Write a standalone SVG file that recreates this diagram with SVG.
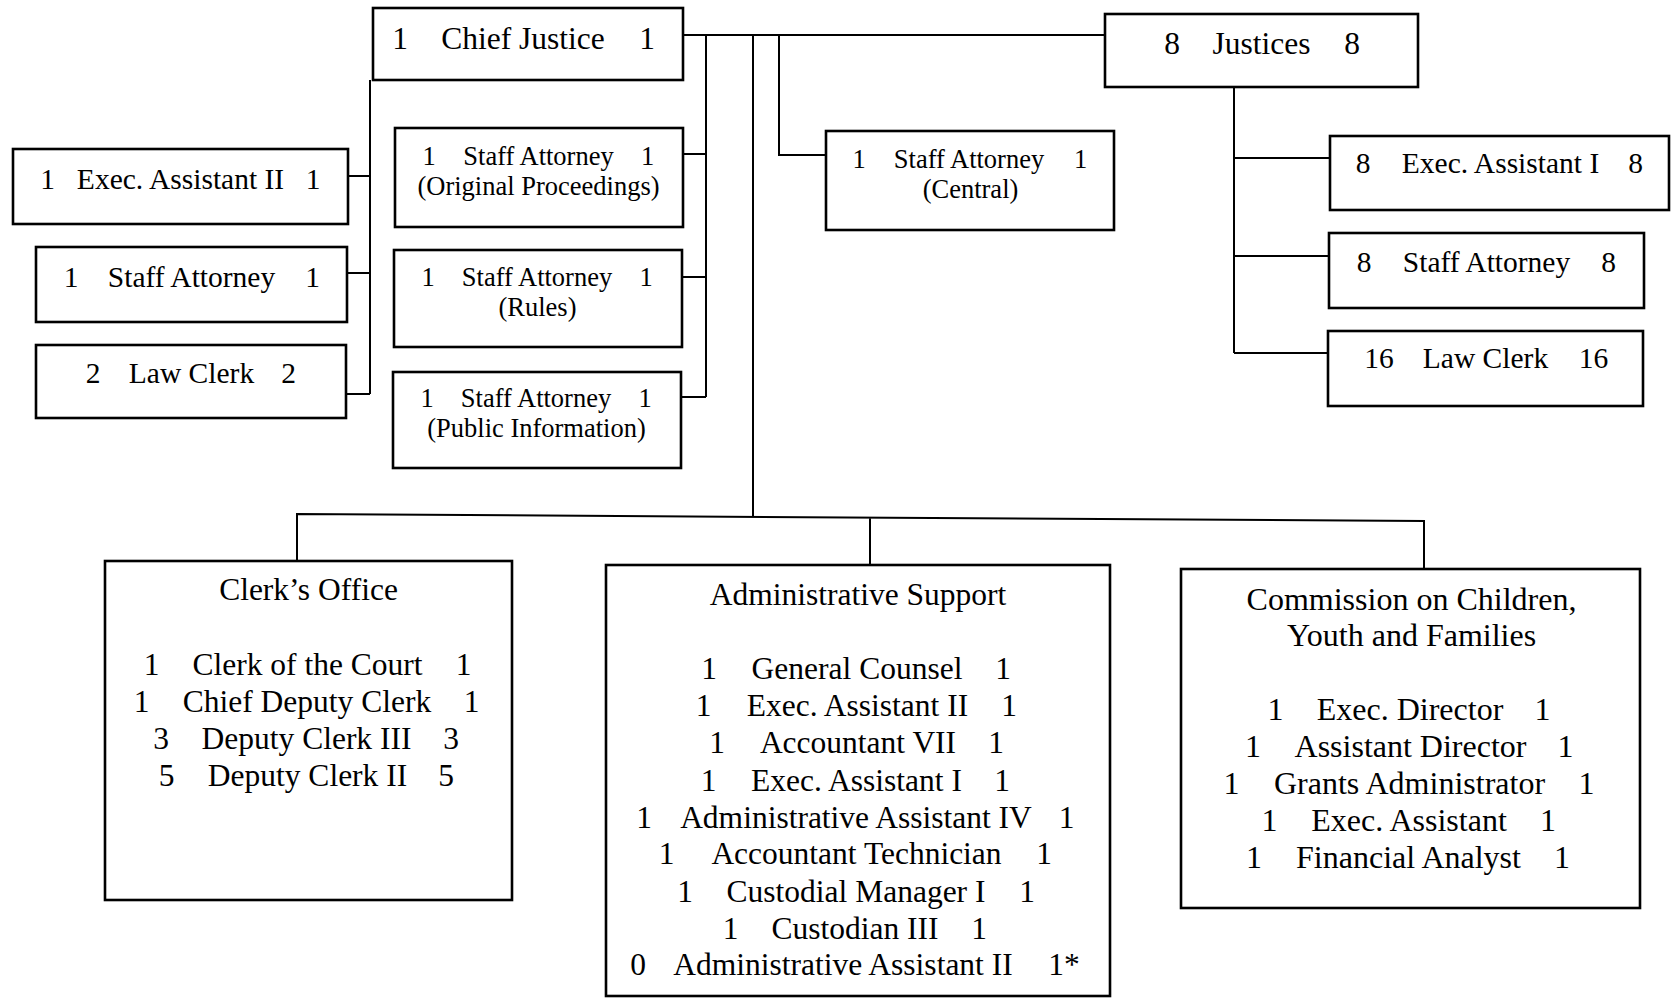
<svg xmlns="http://www.w3.org/2000/svg" width="1671" height="999" viewBox="0 0 1671 999">
<style>
.box{fill:#fff;stroke:#000;stroke-width:2.6}
.ln{fill:none;stroke:#000;stroke-width:2}
text{font-family:"Liberation Serif","Times New Roman",serif;fill:#000;text-anchor:middle}
.a{font-size:31.5px}
.b{font-size:29.5px}
.c{font-size:26.5px}
.d{font-size:32px}
</style>
<rect width="1671" height="999" fill="#fff"/>
<g id="connectors">
<path class="ln" d="M370,80 V394 M348,176 H370 M347,273 H370 M346,394 H370"/>
<path class="ln" d="M683,35 H1105"/>
<path class="ln" d="M706,35 V397 M683,154 H706 M682,277 H706 M681,397 H706"/>
<path class="ln" d="M753,35 V517"/>
<path class="ln" d="M779,35 V155 H826"/>
<path class="ln" d="M1234,87 V353 M1234,158 H1330 M1234,256 H1329 M1234,353 H1328"/>
<path class="ln" d="M297,561 V514 L1424,521 V569 M870,517 V565"/>
</g>
<g id="chief-justice">
<rect class="box" x="373" y="8" width="310" height="72"/>
<text class="a" y="49"><tspan x="400">1</tspan><tspan x="523">Chief Justice</tspan><tspan x="647">1</tspan></text>
</g>
<g id="justices">
<rect class="box" x="1105" y="14" width="313" height="73"/>
<text class="a" y="54"><tspan x="1172">8</tspan><tspan x="1261.5">Justices</tspan><tspan x="1352">8</tspan></text>
</g>
<g id="cj-exec-assistant-ii">
<rect class="box" x="13" y="149" width="335" height="75"/>
<text class="b" y="189"><tspan x="47.5">1</tspan><tspan x="180.5">Exec. Assistant II</tspan><tspan x="313">1</tspan></text>
</g>
<g id="cj-staff-attorney">
<rect class="box" x="36" y="247" width="311" height="75"/>
<text class="b" y="287"><tspan x="71">1</tspan><tspan x="191.5">Staff Attorney</tspan><tspan x="312.5">1</tspan></text>
</g>
<g id="cj-law-clerk">
<rect class="box" x="36" y="345" width="310" height="73"/>
<text class="b" y="383"><tspan x="93">2</tspan><tspan x="191.5">Law Clerk</tspan><tspan x="288.5">2</tspan></text>
</g>
<g id="sa-original-proceedings">
<rect class="box" x="395" y="128" width="288" height="99"/>
<text class="c" y="165"><tspan x="429">1</tspan><tspan x="538.5">Staff Attorney</tspan><tspan x="647.5">1</tspan></text>
<text class="c" x="538.5" y="195">(Original Proceedings)</text>
</g>
<g id="sa-rules">
<rect class="box" x="394" y="250" width="288" height="97"/>
<text class="c" y="286"><tspan x="428">1</tspan><tspan x="537">Staff Attorney</tspan><tspan x="646">1</tspan></text>
<text class="c" x="537.5" y="316">(Rules)</text>
</g>
<g id="sa-public-information">
<rect class="box" x="393" y="372" width="288" height="96"/>
<text class="c" y="407"><tspan x="427">1</tspan><tspan x="536">Staff Attorney</tspan><tspan x="645">1</tspan></text>
<text class="c" x="536.5" y="437">(Public Information)</text>
</g>
<g id="sa-central">
<rect class="box" x="826" y="131" width="288" height="99"/>
<text class="c" y="168"><tspan x="859">1</tspan><tspan x="969">Staff Attorney</tspan><tspan x="1080.5">1</tspan></text>
<text class="c" x="970.5" y="198">(Central)</text>
</g>
<g id="j-exec-assistant-i">
<rect class="box" x="1330" y="136" width="339" height="74"/>
<text class="b" y="173"><tspan x="1363">8</tspan><tspan x="1500.5">Exec. Assistant I</tspan><tspan x="1635.5">8</tspan></text>
</g>
<g id="j-staff-attorney">
<rect class="box" x="1329" y="233" width="315" height="75"/>
<text class="b" y="272"><tspan x="1364">8</tspan><tspan x="1486.5">Staff Attorney</tspan><tspan x="1608.5">8</tspan></text>
</g>
<g id="j-law-clerk">
<rect class="box" x="1328" y="331" width="315" height="75"/>
<text class="b" y="368"><tspan x="1379">16</tspan><tspan x="1485.5">Law Clerk</tspan><tspan x="1593.5">16</tspan></text>
</g>
<g id="clerks-office">
<rect class="box" x="105" y="561" width="407" height="339"/>
<text class="a" x="308.5" y="600">Clerk’s Office</text>
<text class="a" y="674.5"><tspan x="151.5">1</tspan><tspan x="307.5">Clerk of the Court</tspan><tspan x="463.5">1</tspan></text>
<text class="a" y="711.5"><tspan x="141.5">1</tspan><tspan x="307">Chief Deputy Clerk</tspan><tspan x="471.5">1</tspan></text>
<text class="a" y="749"><tspan x="161">3</tspan><tspan x="306.5">Deputy Clerk III</tspan><tspan x="451">3</tspan></text>
<text class="a" y="786"><tspan x="166.5">5</tspan><tspan x="307.5">Deputy Clerk II</tspan><tspan x="446">5</tspan></text>
</g>
<g id="administrative-support">
<rect class="box" x="606" y="565" width="504" height="431"/>
<text class="a" x="858" y="605">Administrative Support</text>
<text class="a" y="679"><tspan x="709">1</tspan><tspan x="857">General Counsel</tspan><tspan x="1003">1</tspan></text>
<text class="a" y="716"><tspan x="703.5">1</tspan><tspan x="857.5">Exec. Assistant II</tspan><tspan x="1009">1</tspan></text>
<text class="a" y="753"><tspan x="717">1</tspan><tspan x="858">Accountant VII</tspan><tspan x="996">1</tspan></text>
<text class="a" y="790.5"><tspan x="708.5">1</tspan><tspan x="856.5">Exec. Assistant I</tspan><tspan x="1002">1</tspan></text>
<text class="a" y="828"><tspan x="644">1</tspan><tspan x="856">Administrative Assistant IV</tspan><tspan x="1066.5">1</tspan></text>
<text class="a" y="864"><tspan x="666.5">1</tspan><tspan x="856.5">Accountant Technician</tspan><tspan x="1044">1</tspan></text>
<text class="a" y="901.5"><tspan x="685">1</tspan><tspan x="856">Custodial Manager I</tspan><tspan x="1027">1</tspan></text>
<text class="a" y="938.5"><tspan x="730.5">1</tspan><tspan x="855">Custodian III</tspan><tspan x="979">1</tspan></text>
<text class="a" y="975"><tspan x="638">0</tspan><tspan x="843">Administrative Assistant II</tspan><tspan x="1064">1*</tspan></text>
</g>
<g id="commission-children-youth-families">
<rect class="box" x="1181" y="569" width="459" height="339"/>
<text class="d" x="1411.5" y="610">Commission on Children,</text>
<text class="d" x="1411.5" y="646">Youth and Families</text>
<text class="d" y="720"><tspan x="1275.5">1</tspan><tspan x="1410">Exec. Director</tspan><tspan x="1542.5">1</tspan></text>
<text class="d" y="757"><tspan x="1253">1</tspan><tspan x="1410.5">Assistant Director</tspan><tspan x="1565.5">1</tspan></text>
<text class="d" y="794"><tspan x="1231.5">1</tspan><tspan x="1409.5">Grants Administrator</tspan><tspan x="1586.5">1</tspan></text>
<text class="d" y="831"><tspan x="1269.5">1</tspan><tspan x="1409">Exec. Assistant</tspan><tspan x="1548">1</tspan></text>
<text class="d" y="868"><tspan x="1254">1</tspan><tspan x="1408.5">Financial Analyst</tspan><tspan x="1562">1</tspan></text>
</g>
</svg>
